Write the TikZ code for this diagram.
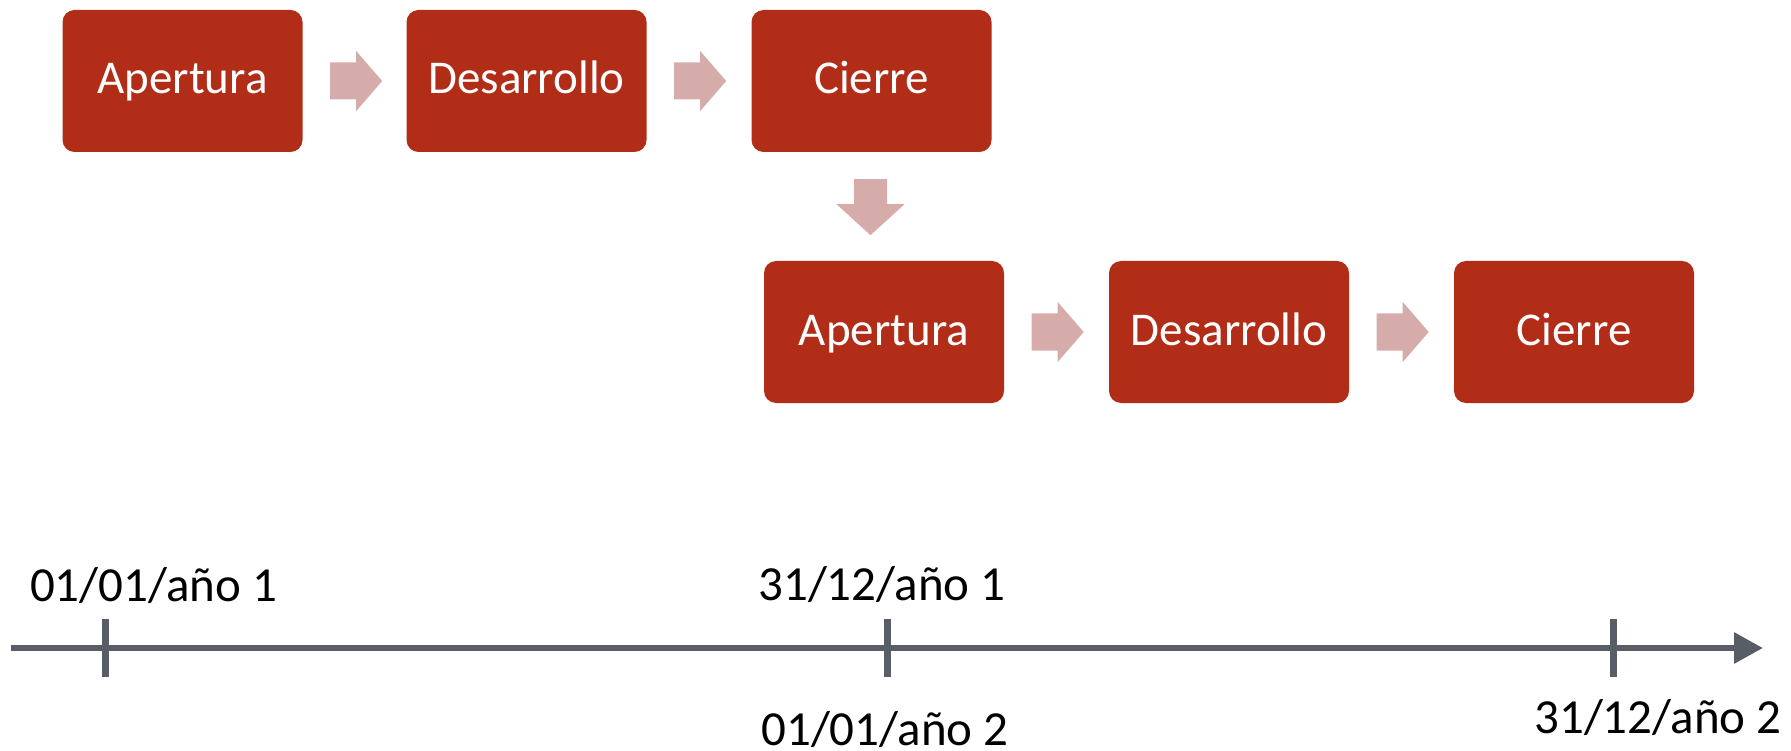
\documentclass[tikz,border=0pt]{standalone}
\usepackage{fontspec}
\setmainfont{Carlito}
\usetikzlibrary{calc,arrows.meta}
\definecolor{boxred}{RGB}{178,45,23}
\definecolor{arrowpink}{RGB}{213,172,170}
\definecolor{axisgray}{RGB}{89,94,102}
\tikzset{
  stagebox/.style={fill=boxred, draw=none, rounded corners=12pt,
    minimum width=240pt, minimum height=142pt, inner sep=0pt,
    text=white, font=\fontsize{47}{56}\selectfont,
    text height=30pt, text depth=4pt},
  blockarrow/.style={fill=arrowpink, draw=none},
  axisline/.style={draw=axisgray, line width=6pt},
  ticklines/.style={draw=axisgray, line width=6.5pt},
  datelabel/.style={anchor=base, inner sep=0pt, text=black,
    font=\fontsize{49}{58}\selectfont}
}
\begin{document}
\begin{tikzpicture}[x=1pt, y=-1pt]
\useasboundingbox (0,0) rectangle (1791,751);
% row 1
\node[stagebox] (b1) at (182.5,81) {Apertura};
\node[stagebox] (b2) at (526.5,81) {Desarrollo};
\node[stagebox] (b3) at (871.5,81) {Cierre};
% row 2
\node[stagebox] (c1) at (884,332) {Apertura};
\node[stagebox] (c2) at (1229,332) {Desarrollo};
\node[stagebox] (c3) at (1574,332) {Cierre};
% right block arrows
\foreach \a in {b1,b2,c1,c2}{
  \fill[blockarrow] ($(\a.east)+(27.5,-18.5)$) -- ++(26,0) -- ++(0,-11.5)
    -- ++(26,30) -- ++(-26,30) -- ++(0,-11.5) -- ++(-26,0) -- cycle;
}
% down block arrow
\fill[blockarrow] ($(b3.south)+(-17.5,27)$) -- ++(33,0) -- ++(0,25)
  -- ++(17.5,0) -- ++(-34,31) -- ++(-34,-31) -- ++(17.5,0) -- cycle;
% timeline
\coordinate (t0) at (11,648);
\coordinate (t1) at (1763,648);
\draw[axisline, -{Triangle[length=29pt,width=30pt]}] (t0) -- (t1);
\coordinate (k1) at (105.5,648);
\coordinate (k2) at (887.5,648);
\coordinate (k3) at (1613.5,648);
\foreach \k in {k1,k2,k3}{
  \draw[ticklines] ($(\k)+(0,-29)$) -- ($(\k)+(0,29)$);
}
\node[datelabel] (l1) at (153.7,601) {01/01/año 1};
\node[datelabel] (l2) at (882,600) {31/12/año 1};
\node[datelabel] (l3) at (885,745) {01/01/año 2};
\node[datelabel] (l4) at (1658,733) {31/12/año 2};
\end{tikzpicture}
\end{document}
